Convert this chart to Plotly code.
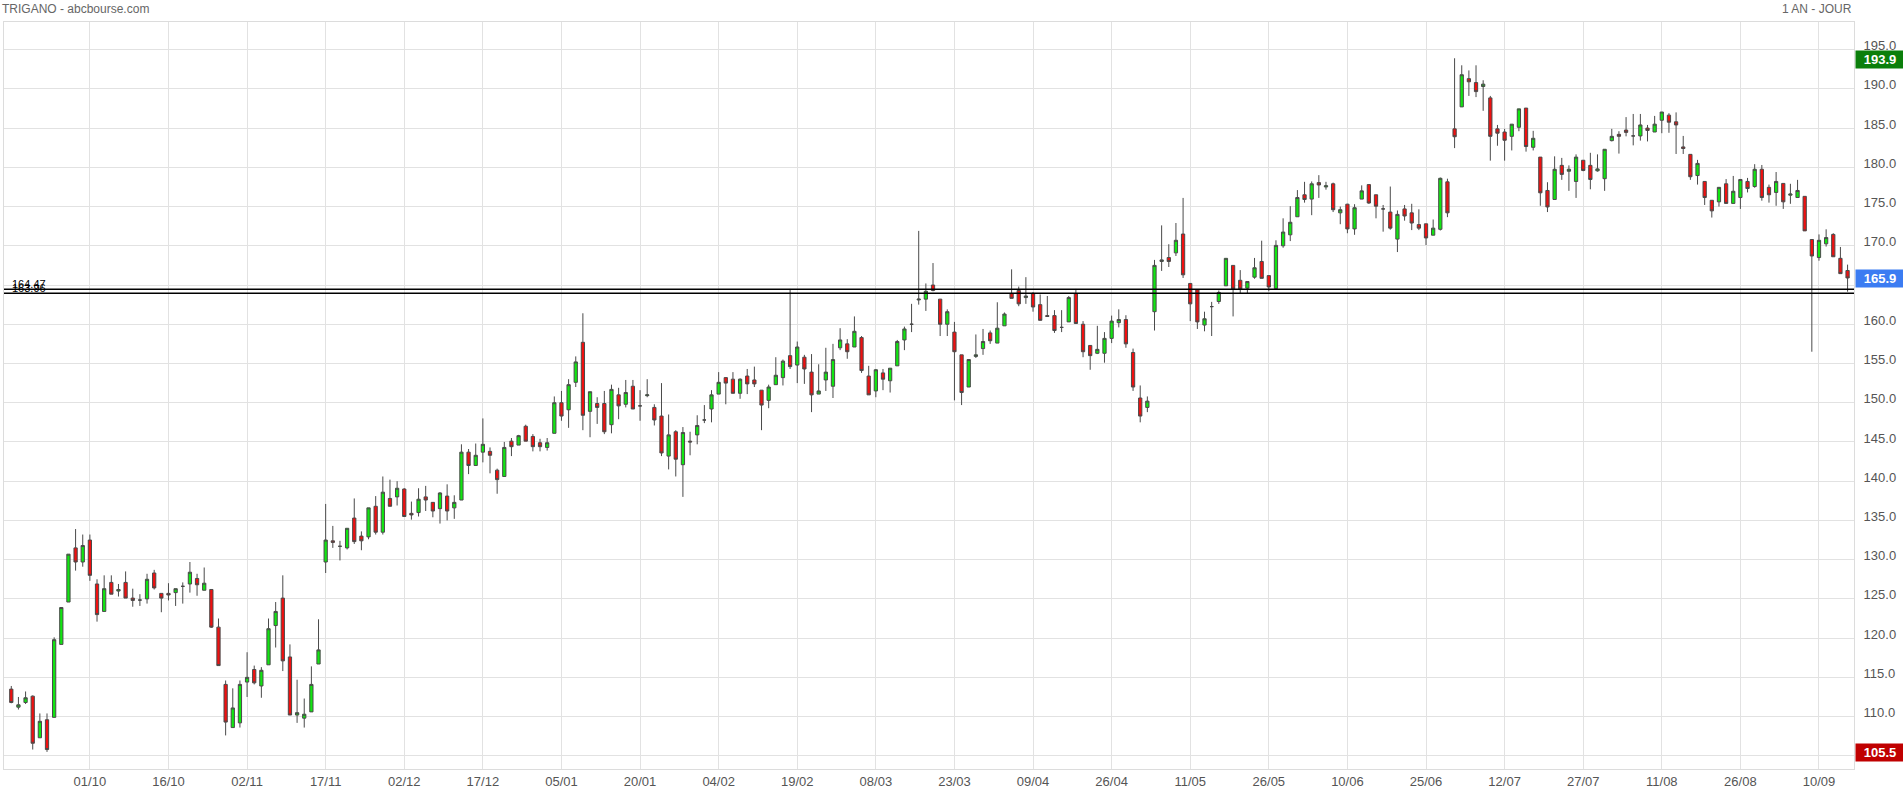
import pandas as pd
import plotly.graph_objects as go

# ---- data (TRIGANO, daily, 16/09/2020 -> 16/09/2021) ----
holidays = ["2020-12-25", "2021-01-01", "2021-04-02", "2021-04-05"]
dates = [d.strftime("%Y-%m-%d") for d in pd.bdate_range("2020-09-16", "2021-09-16")
         if d.strftime("%Y-%m-%d") not in holidays]

open_ = [
113.5, 111.2, 111.8, 112.6, 107.3, 109.6, 109.9, 119.2, 124.6, 131.5,
129.7, 132.5, 126.9, 123.4, 127.1, 126.0, 127.1, 125.1, 124.85, 125.0,
128.3, 125.7, 125.7, 125.8, 126.6, 126.9, 127.6, 126.1, 126.2, 121.4,
114.1, 108.6, 109.2, 114.4, 116.0, 113.9, 116.6, 121.6, 125.1, 117.6,
110.2, 109.8, 110.6, 116.7, 129.7, 132.4, 131.7, 131.5, 135.3, 133.0,
132.9, 136.8, 133.5, 137.8, 138.0, 139.0, 135.9, 136.0, 138.0, 137.3,
136.5, 138.1, 136.6, 137.6, 143.7, 142.0, 143.7, 143.8, 141.4, 140.6,
145.1, 144.6, 147.0, 145.7, 144.9, 144.3, 146.1, 150.0, 149.1, 152.6,
157.7, 148.9, 149.9, 149.9, 147.2, 151.0, 149.8, 152.1, 149.6, 150.9,
149.4, 148.3, 143.2, 146.3, 142.1, 145.1, 145.9, 147.8, 149.2, 151.1,
153.2, 153.0, 151.2, 153.4, 152.9, 151.6, 150.3, 152.3, 153.2, 156.0,
154.8, 155.8, 153.9, 151.1, 152.9, 152.1, 157.0, 157.5, 157.1, 158.3,
153.4, 151.5, 153.8, 152.8, 154.7, 158.0, 160.0, 163.1, 163.2, 165.0,
163.2, 160.0, 159.0, 156.1, 152.0, 155.9, 156.9, 158.9, 157.6, 159.8,
163.9, 164.3, 163.4, 163.9, 162.5, 161.1, 161.1, 159.6, 160.3, 163.9,
160.0, 157.3, 156.3, 156.3, 158.2, 160.2, 160.6, 156.4, 150.6, 149.4,
161.6, 168.0, 168.5, 169.1, 171.5, 165.2, 164.4, 159.9, 162.25, 162.9,
164.9, 167.5, 165.6, 164.6, 166.0, 168.0, 166.2, 164.55, 170.0, 171.4,
173.7, 176.5, 175.95, 178.05, 177.5, 177.9, 174.2, 175.3, 172.15, 175.95,
177.8, 176.5, 174.7, 174.3, 170.85, 174.7, 174.2, 172.7, 172.8, 171.35,
172.1, 178.15, 184.9, 187.7, 191.3, 190.8, 190.3, 188.85, 184.9, 184.5,
183.95, 185.1, 187.55, 182.55, 181.3, 177.05, 175.9, 180.25, 179.5, 178.2,
180.9, 180.25, 179.55, 178.55, 183.4, 184.2, 184.75, 184.0, 184.0, 185.0,
184.5, 186.0, 186.65, 185.8, 182.6, 181.65, 178.95, 178.2, 175.8, 175.6,
177.9, 175.4, 176.15, 178.2, 177.55, 179.75, 177.45, 176.8, 177.95, 176.45,
176.15, 176.3, 170.8, 168.5, 170.25, 171.45, 168.4, 166.85,
]

high_ = [
113.9, 112.5, 113.2, 112.7, 110.4, 110.4, 120.1, 123.9, 130.7, 133.9,
133.2, 133.2, 127.5, 128.0, 128.0, 126.9, 128.5, 126.3, 125.6, 128.2,
128.7, 125.7, 127.0, 126.3, 127.1, 129.7, 128.2, 129.0, 126.2, 122.5,
114.6, 113.6, 114.6, 118.2, 116.5, 116.3, 122.5, 124.6, 128.0, 119.2,
114.7, 112.3, 116.4, 122.4, 137.1, 134.3, 132.4, 134.0, 137.8, 133.6,
136.6, 138.1, 140.6, 140.2, 140.0, 139.1, 137.4, 139.1, 139.4, 137.3,
138.6, 139.6, 138.2, 144.7, 144.1, 144.8, 148.0, 144.3, 141.6, 145.0,
145.5, 145.9, 147.2, 146.0, 145.4, 145.5, 150.8, 151.5, 153.0, 155.9,
161.4, 151.4, 150.7, 151.5, 152.3, 151.9, 152.9, 152.9, 151.6, 153.0,
149.8, 152.5, 148.5, 146.5, 146.9, 146.3, 148.4, 149.7, 151.6, 153.9,
153.2, 153.9, 153.1, 154.3, 154.6, 151.6, 152.3, 155.8, 155.5, 164.5,
157.8, 156.1, 156.2, 154.9, 157.0, 157.5, 159.5, 158.1, 161.0, 158.5,
154.7, 154.3, 154.3, 154.4, 158.0, 159.7, 162.6, 171.9, 165.2, 167.8,
163.2, 161.9, 160.3, 156.1, 155.5, 158.7, 159.4, 159.2, 162.8, 161.5,
167.0, 164.8, 166.0, 164.1, 163.8, 163.6, 161.8, 161.8, 163.6, 164.5,
160.4, 157.3, 159.8, 159.0, 161.1, 161.9, 161.15, 156.9, 152.2, 150.8,
168.2, 172.6, 170.2, 172.9, 176.1, 165.2, 164.4, 161.6, 162.85, 164.3,
168.4, 167.5, 166.9, 165.45, 168.45, 170.65, 166.2, 170.7, 173.5, 175.05,
177.1, 178.15, 178.2, 179.0, 178.15, 178.05, 175.0, 175.35, 175.3, 177.7,
177.8, 176.5, 175.2, 177.55, 174.5, 175.2, 175.35, 174.65, 172.8, 173.35,
178.7, 178.55, 193.9, 193.0, 192.35, 193.0, 191.1, 189.1, 185.4, 184.9,
185.5, 187.45, 187.55, 184.65, 181.3, 178.1, 181.4, 181.2, 180.25, 181.65,
180.9, 181.85, 181.65, 182.3, 184.9, 184.6, 186.4, 186.8, 186.8, 185.4,
186.55, 187.05, 186.9, 187.0, 184.0, 181.65, 180.95, 178.2, 175.8, 177.45,
178.5, 178.9, 178.45, 178.65, 180.4, 180.3, 177.8, 179.4, 177.95, 177.9,
178.4, 176.3, 170.8, 171.45, 172.1, 171.6, 169.85, 167.6,
]

low_ = [
111.7, 110.9, 111.6, 105.8, 107.3, 105.5, 109.9, 119.2, 124.6, 128.6,
129.1, 127.3, 122.1, 123.4, 125.6, 125.3, 125.1, 124.0, 124.1, 124.4,
126.2, 123.3, 124.8, 124.1, 124.4, 125.8, 125.4, 126.1, 121.3, 116.5,
107.6, 108.6, 108.6, 112.5, 114.1, 112.4, 116.6, 118.8, 115.8, 110.2,
109.2, 108.6, 110.6, 116.7, 128.3, 131.5, 129.9, 131.3, 132.0, 131.2,
132.6, 133.2, 133.2, 136.8, 136.9, 135.5, 135.1, 135.5, 136.2, 135.4,
134.6, 135.0, 135.2, 137.6, 140.9, 142.0, 142.4, 141.0, 138.4, 140.6,
143.2, 144.6, 145.1, 143.8, 143.8, 143.9, 146.1, 147.7, 146.8, 152.0,
146.5, 145.6, 147.3, 146.0, 146.1, 147.9, 149.4, 149.2, 147.7, 150.7,
147.1, 143.2, 141.5, 140.6, 138.0, 143.3, 144.7, 147.4, 147.5, 151.1,
149.8, 151.2, 150.5, 151.1, 152.0, 146.5, 149.3, 152.3, 152.2, 154.3,
152.5, 152.4, 148.8, 151.1, 151.5, 150.6, 156.7, 155.6, 157.1, 153.8,
151.0, 150.7, 151.6, 151.3, 154.7, 156.7, 159.0, 162.5, 161.7, 164.2,
158.5, 158.5, 150.3, 149.7, 152.0, 155.7, 156.1, 157.5, 157.6, 159.8,
163.3, 162.3, 162.6, 161.6, 160.5, 161.0, 158.9, 159.0, 160.3, 160.1,
155.8, 154.2, 156.2, 155.1, 157.6, 159.6, 157.0, 151.5, 147.5, 148.8,
159.2, 166.8, 167.3, 168.7, 165.9, 160.4, 159.4, 159.1, 158.5, 162.6,
164.9, 161.0, 163.9, 163.9, 165.8, 165.85, 164.2, 164.55, 169.75, 170.6,
173.7, 175.5, 173.9, 176.1, 177.15, 174.3, 172.75, 171.6, 171.4, 175.95,
175.35, 173.5, 171.8, 172.05, 169.2, 173.2, 172.0, 172.0, 170.1, 171.35,
171.95, 173.65, 182.45, 187.7, 189.1, 188.95, 187.2, 180.85, 182.75, 180.85,
182.15, 184.6, 182.0, 182.15, 175.1, 174.3, 175.9, 178.4, 177.0, 176.1,
179.5, 177.2, 179.45, 177.0, 183.3, 181.75, 183.95, 182.8, 183.4, 183.3,
184.5, 184.35, 184.4, 181.7, 181.7, 178.4, 177.8, 175.2, 173.6, 175.0,
175.4, 175.4, 174.7, 176.8, 177.4, 175.75, 175.5, 175.1, 174.7, 175.35,
176.15, 171.9, 156.5, 168.1, 169.9, 168.6, 166.45, 164.15,
]

close_ = [
111.8, 111.5, 112.4, 106.6, 109.4, 105.8, 119.8, 123.9, 130.7, 129.7,
131.8, 128.0, 123.0, 126.3, 125.6, 126.2, 125.1, 124.8, 124.85, 127.5,
126.4, 125.1, 125.5, 126.3, 126.6, 128.4, 126.8, 127.0, 121.4, 116.5,
109.3, 111.1, 114.1, 115.0, 114.3, 115.9, 121.2, 123.4, 117.1, 110.2,
110.5, 110.3, 114.1, 118.5, 132.5, 132.2, 131.7, 134.0, 132.3, 132.4,
136.6, 133.5, 138.6, 136.8, 139.1, 135.5, 135.7, 137.7, 137.6, 136.2,
138.5, 136.2, 137.3, 143.7, 142.0, 143.3, 144.7, 143.3, 140.2, 144.3,
144.4, 145.8, 145.1, 144.4, 144.4, 144.9, 150.0, 148.3, 152.3, 155.2,
148.4, 151.4, 149.4, 146.3, 151.7, 149.6, 151.3, 149.2, 149.6, 151.0,
147.8, 143.6, 145.9, 142.8, 146.2, 145.0, 147.1, 147.8, 151.0, 152.6,
152.5, 151.2, 153.0, 152.4, 152.4, 149.7, 152.0, 153.5, 155.3, 154.6,
157.1, 154.3, 151.0, 151.5, 153.9, 155.5, 158.0, 156.5, 159.1, 154.1,
151.0, 154.2, 153.0, 154.4, 157.8, 159.4, 160.0, 163.2, 164.2, 164.3,
160.0, 161.6, 156.5, 151.3, 155.5, 156.1, 157.8, 157.9, 159.5, 161.3,
163.3, 162.6, 163.6, 162.2, 160.5, 161.0, 159.2, 159.6, 163.4, 160.1,
156.5, 156.0, 156.8, 158.2, 160.4, 160.6, 157.5, 152.0, 148.3, 150.2,
167.5, 168.2, 168.0, 170.7, 166.3, 162.6, 160.3, 160.7, 162.25, 164.05,
168.4, 164.5, 164.5, 165.45, 167.2, 165.85, 164.75, 170.05, 171.75, 173.0,
176.15, 175.9, 177.9, 177.75, 177.65, 174.6, 174.6, 172.15, 174.85, 177.0,
175.45, 175.05, 174.7, 172.25, 174.0, 173.8, 172.9, 172.25, 171.0, 172.25,
178.6, 174.2, 183.9, 191.8, 190.9, 189.65, 190.6, 183.95, 184.35, 183.45,
185.5, 187.45, 182.65, 183.7, 176.75, 174.95, 179.75, 179.1, 179.75, 181.3,
179.6, 178.45, 179.8, 182.3, 183.95, 183.95, 184.45, 184.0, 185.4, 184.7,
185.5, 187.05, 185.75, 185.4, 182.4, 178.8, 180.5, 176.15, 174.45, 177.45,
175.4, 176.95, 178.45, 177.3, 179.75, 176.15, 176.5, 178.2, 175.6, 176.6,
177.05, 171.9, 168.7, 170.7, 171.05, 168.6, 166.45, 165.9,
]

x_tick_dates = ["2020-10-01", "2020-10-16", "2020-11-02", "2020-11-17", "2020-12-02",
                "2020-12-17", "2021-01-05", "2021-01-20", "2021-02-04", "2021-02-19",
                "2021-03-08", "2021-03-23", "2021-04-09", "2021-04-26", "2021-05-11",
                "2021-05-26", "2021-06-10", "2021-06-25", "2021-07-12", "2021-07-27",
                "2021-08-11", "2021-08-26", "2021-09-10"]
x_tick_labels = ["01/10", "16/10", "02/11", "17/11", "02/12", "17/12", "05/01", "20/01",
                 "04/02", "19/02", "08/03", "23/03", "09/04", "26/04", "11/05", "26/05",
                 "10/06", "25/06", "12/07", "27/07", "11/08", "26/08", "10/09"]
y_ticks = [105, 110, 115, 120, 125, 130, 135, 140, 145, 150, 155, 160, 165, 170,
           175, 180, 185, 190, 195]
hidden_y_labels = [105, 165]
support_levels = [164.47, 163.96]
max_price = 193.9
last_price = 165.9
min_price = 105.5

n = len(dates)
assert n == 258, n
for arr in (open_, high_, low_, close_):
    assert len(arr) == n, len(arr)

FONT = "Liberation Sans, Arial, Helvetica, sans-serif"

fig = go.Figure()
fig.add_trace(go.Candlestick(
    x=dates, open=open_, high=high_, low=low_, close=close_,
    increasing=dict(fillcolor="#11e611", line=dict(color="#4a4a4a", width=1)),
    decreasing=dict(fillcolor="#f01010", line=dict(color="#4a4a4a", width=1)),
    whiskerwidth=0, showlegend=False, hoverinfo="x+y",
))

for lvl in support_levels:
    fig.add_shape(type="line", xref="paper", x0=0, x1=1, yref="y", y0=lvl, y1=lvl,
                  line=dict(color="#000000", width=1.5), layer="above")
    fig.add_annotation(xref="paper", x=0, xanchor="left", xshift=6, yref="y", y=lvl,
                       yanchor="bottom", yshift=-3, text=f"{lvl:.2f}", showarrow=False,
                       font=dict(family=FONT, size=11, color="#000000"))

for val, col in ((max_price, "#0b7f0b"), (last_price, "#3b7cf2"), (min_price, "#c00000")):
    fig.add_annotation(xref="paper", x=1, xanchor="left", xshift=1, yref="y", y=val,
                       yanchor="middle", yshift=-1, text=f"<b>{val:.1f}</b>", showarrow=False,
                       bgcolor=col, width=44, height=13, borderpad=2, align="center",
                       font=dict(family=FONT, size=13, color="#ffffff"))

fig.add_annotation(xref="paper", x=0, xanchor="left", xshift=-4, yref="paper", y=1,
                   yanchor="bottom", yshift=4, text="TRIGANO - abcbourse.com",
                   showarrow=False, font=dict(family=FONT, size=12, color="#666666"))
fig.add_annotation(xref="paper", x=1, xanchor="right", xshift=0, yref="paper", y=1,
                   yanchor="bottom", yshift=4, text="1 AN - JOUR",
                   showarrow=False, font=dict(family=FONT, size=12, color="#666666"))

fig.update_layout(
    width=1903, height=796,
    margin=dict(l=4, r=49, t=22, b=27),
    paper_bgcolor="#ffffff", plot_bgcolor="#ffffff",
    boxgap=0.35,
    font=dict(family=FONT, size=13, color="#555555"),
    xaxis=dict(type="category", categoryorder="array", categoryarray=dates,
               range=[-1.02, 257.9], rangeslider=dict(visible=False),
               tickmode="array", tickvals=x_tick_dates, ticktext=x_tick_labels,
               showgrid=True, gridcolor="#e2e2e2", gridwidth=1,
               showline=True, linecolor="#dcdcdc", mirror=True,
               ticks="", tickfont=dict(size=13, color="#555555"), zeroline=False),
    yaxis=dict(side="right", range=[103.32, 198.52], tickmode="array",
               tickvals=y_ticks,
               ticktext=["" if v in hidden_y_labels else f"{v:.1f}" for v in y_ticks],
               showgrid=True, gridcolor="#e2e2e2", gridwidth=1,
               showline=True, linecolor="#dcdcdc", mirror=True,
               ticks="", ticklabelstandoff=6, ticklabelshift=-4,
               tickfont=dict(size=13, color="#555555"), zeroline=False),
)

fig.write_html("out.html", config={"displayModeBar": False},
               post_script="document.body.style.margin='0';document.body.style.overflow='hidden';")
